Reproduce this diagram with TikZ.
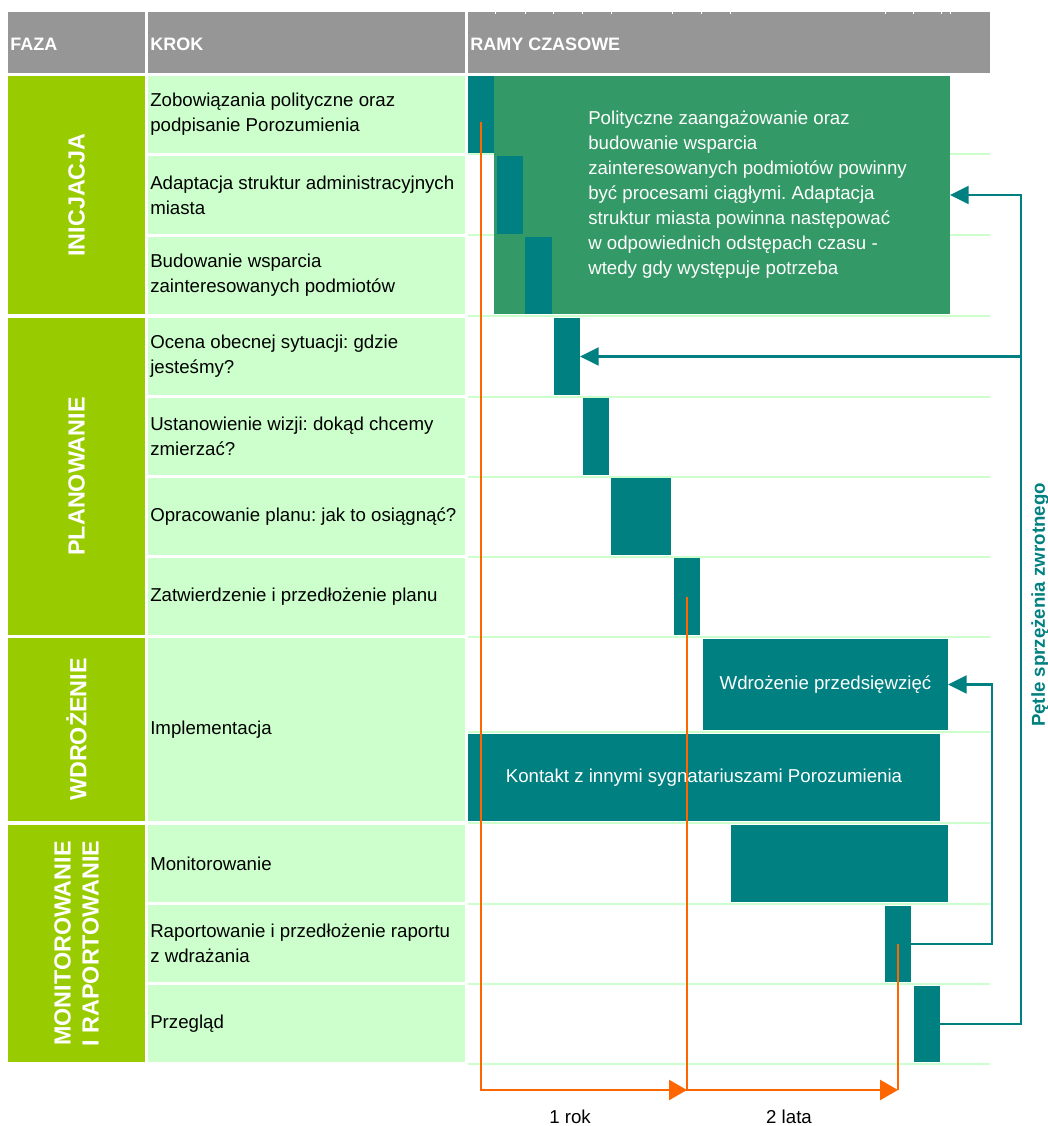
\documentclass[tikz,border=0pt]{standalone}
\usepackage{fontspec}
\setmainfont{Liberation Sans}
\frenchspacing
\usetikzlibrary{fit,arrows.meta}
\definecolor{faza}{HTML}{99CC00}
\definecolor{krok}{HTML}{CCFFCC}
\definecolor{naglowek}{HTML}{969696}
\definecolor{morski}{HTML}{008080}
\definecolor{zielen}{HTML}{339966}
\definecolor{pomarancz}{HTML}{FF6600}
\tikzset{
  cellbox/.style = {inner sep=0pt, outer sep=0pt},
  stepcell/.style = {cellbox, fill=krok},
  phasecell/.style = {cellbox, fill=faza},
  ganttbar/.style = {cellbox, fill=morski},
  phasetext/.style = {rotate=90, text=white, align=center,
    font=\bfseries\fontsize{17.5}{21}\selectfont},
  steptext/.style = {anchor=west, align=left, inner sep=0pt,
    font=\fontsize{14}{18.75}\selectfont},
  headtext/.style = {anchor=west, text=white, inner sep=0pt,
    font=\bfseries\fontsize{13.5}{16}\selectfont},
  bartext/.style = {text=white, font=\fontsize{14}{18.75}\selectfont},
  sepline/.style = {draw=krok, line width=1.5pt},
  feedback/.style = {draw=morski, line width=1.8pt,
    -{Triangle[length=14pt,width=13.5pt]}},
  timespan/.style = {draw=pomarancz, line width=1.8pt,
    -{Triangle[length=13.5pt,width=15pt]}}
}

\begin{document}
\begin{tikzpicture}[x=0.75pt, y=-0.75pt]
  \useasboundingbox (0,0) rectangle (1047,1126);

  % naglowek
  \node[cellbox, fill=naglowek, fit={(8,12) (145,73)}] (hfaza) {};
  \node[cellbox, fill=naglowek, fit={(148,12) (465,73)}] (hkrok) {};
  \node[cellbox, fill=naglowek, fit={(468,12) (990,73)}] (hczas) {};
  \node[headtext] at ([xshift=1.5pt,yshift=-1.5pt]hfaza.west) {FAZA};
  \node[headtext] at ([xshift=1.5pt,yshift=-1.5pt]hkrok.west) {KROK};
  \node[headtext] at ([xshift=1.5pt,yshift=-1.5pt]hczas.west) {RAMY CZASOWE};
  \foreach \x in {495,525,553,582,611,672,701,730,885,913,941,950}
    \draw[white, line width=0.6pt] (\x,12) -- (\x,14);

  % fazy
  \node[phasecell, fit={(8,76) (145,314)}] (inicjacja) {};
  \node[phasecell, fit={(8,318) (145,635)}] (planowanie) {};
  \node[phasecell, fit={(8,638) (145,821)}] (wdrozenie) {};
  \node[phasecell, fit={(8,825) (145,1062)}] (monitorowanie) {};
  \node[phasetext] at (inicjacja) {INICJACJA};
  \node[phasetext] at (planowanie) {PLANOWANIE};
  \node[phasetext] at (wdrozenie) {WDROŻENIE};
  \node[phasetext] at (monitorowanie) {MONITOROWANIE\\I RAPORTOWANIE};

  % kroki
  \foreach \n/\ya/\yb in {s1/76/153, s2/156/234, s3/237/314, s4/318/395,
      s5/398/475, s6/478/555, s7/558/635, s8/638/821, s9/825/902,
      s10/905/982, s11/985/1062}
    \node[stepcell, fit={(148,\ya) (465,\yb)}] (\n) {};
  \node[steptext] at ([xshift=1.5pt]s1.west) {Zobowiązania polityczne oraz\\podpisanie Porozumienia};
  \node[steptext] at ([xshift=1.5pt]s2.west) {Adaptacja struktur administracyjnych\\miasta};
  \node[steptext] at ([xshift=1.5pt]s3.west) {Budowanie wsparcia\\zainteresowanych podmiotów};
  \node[steptext] at ([xshift=1.5pt]s4.west) {Ocena obecnej sytuacji: gdzie\\jesteśmy?};
  \node[steptext] at ([xshift=1.5pt]s5.west) {Ustanowienie wizji: dokąd chcemy\\zmierzać?};
  \node[steptext] at ([xshift=1.5pt]s6.west) {Opracowanie planu: jak to osiągnąć?};
  \node[steptext] at ([xshift=1.5pt]s7.west) {Zatwierdzenie i przedłożenie planu};
  \node[steptext] at ([xshift=1.5pt]s8.west) {Implementacja};
  \node[steptext] at ([xshift=1.5pt]s9.west) {Monitorowanie};
  \node[steptext] at ([xshift=1.5pt]s10.west) {Raportowanie i przedłożenie raportu\\z wdrażania};
  \node[steptext] at ([xshift=1.5pt]s11.west) {Przegląd};

  % ramy czasowe
  \foreach \y in {154.5,235.5,316,396.5,476.5,556.5,636.5,732,823,903.5,983.5,1063.5}
    \draw[sepline] (468,\y) -- (990,\y);
  \node[cellbox, fill=zielen, fit={(494,76) (950,314)}] (ciagle) {};
  \node[steptext, text=white] at (588,195) {Polityczne zaangażowanie oraz\\budowanie wsparcia\\zainteresowanych podmiotów powinny\\być procesami ciągłymi. Adaptacja\\struktur miasta powinna następować\\w odpowiednich odstępach czasu -\\wtedy gdy występuje potrzeba};
  \foreach \n/\xa/\xb/\ya/\yb in {zobowiazania/468/494/76/153,
      adaptacja/497/523/156/234, wsparcie/525/552/237/314,
      ocena/554/580/318/395, wizja/583/609/398/475, plan/611/671/478/555,
      zatwierdzenie/674/700/558/635, przedsiewziecia/703/948/639/730,
      kontakt/468/940/734/821, monitoring/731/948/825/902,
      raport/885/911/906/982, przeglad/914/940/986/1062}
    \node[ganttbar, fit={(\xa,\ya) (\xb,\yb)}] (\n) {};
  \node[bartext] at (przedsiewziecia) {Wdrożenie przedsięwzięć};
  \node[bartext] at (kontakt) {Kontakt z innymi sygnatariuszami Porozumienia};

  % petle
  \draw[feedback] (przeglad.east) -- ++(81,0) coordinate (petla) |- (ciagle.east);
  \draw[feedback] (petla |- ocena.east) -- (ocena.east);
  \draw[feedback] (raport.east) -- ++(81,0) |- (przedsiewziecia.east);
  \node[rotate=90, text=morski, font=\bfseries\fontsize{14}{17}\selectfont]
    (petle) at (1040,605) {Pętle sprzężenia zwrotnego};

  % czas
  \coordinate (os) at (0,1090);
  \draw[timespan] ([yshift=-6pt]zobowiazania.center) |- (zatwierdzenie.center |- os);
  \draw[timespan] (zatwierdzenie.center) |- (raport.center |- os);
  \draw[pomarancz, line width=1.8pt] (raport.center) -- (raport.center |- os);
  \node[font=\fontsize{14}{17}\selectfont] (rok) at (570,1117) {1 rok};
  \node[font=\fontsize{14}{17}\selectfont] (lata) at (789,1117) {2 lata};
\end{tikzpicture}
\end{document}
